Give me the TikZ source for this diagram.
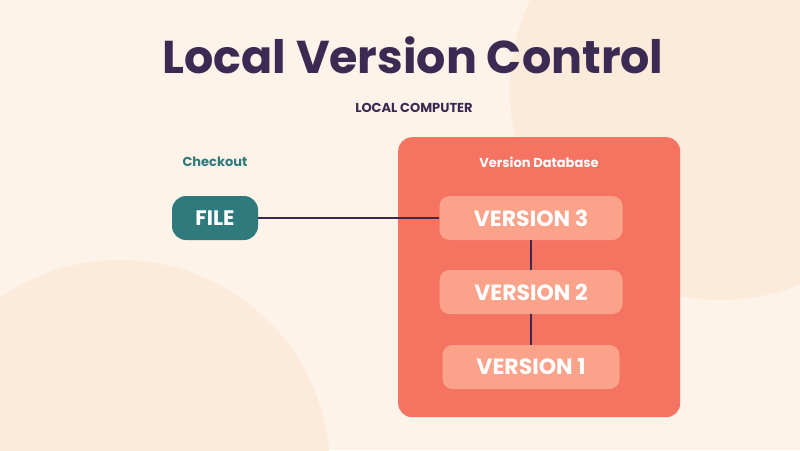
\documentclass[tikz,border=0pt]{standalone}
\usepackage{fontspec}
\setmainfont{Poppins}
\definecolor{bg}{HTML}{FDF3E9}
\definecolor{blob}{HTML}{FCEADA}
\definecolor{ink}{HTML}{3B2A52}
\definecolor{teal}{HTML}{2E7A7C}
\definecolor{db}{HTML}{F47461}
\definecolor{ver}{HTML}{FBA28A}
\begin{document}
\begin{tikzpicture}[x=1pt,y=-1pt,
  verbox/.style={fill=ver,rounded corners=10pt,minimum width=183pt,minimum height=44pt,text=white,font=\fontsize{22}{24}\selectfont\bfseries,inner sep=0pt},
  conn/.style={draw=ink,line width=1.3pt}]
\useasboundingbox (0,0) rectangle (800,450);
\fill[bg] (0,0) rectangle (800,450);
\begin{scope}
\clip (0,0) rectangle (800,450);
\fill[blob] (720,90) circle (210);
\fill[blob] (120,470) circle (210);
\end{scope}
\node[text=ink,font=\fontsize{46}{50}\selectfont\bfseries] (title) at (413,55) {Local Version Control};
\node[text=ink,font=\fontsize{13}{15}\selectfont\bfseries] (lc) at (414,108) {LOCAL COMPUTER};
\node[fill=db,rounded corners=14pt,minimum width=282pt,minimum height=280pt,anchor=north west,inner sep=0pt] (dbbox) at (398,137) {};
\node[text=white,font=\fontsize{13}{15}\selectfont\bfseries] (dbl) at (539,162) {Version Database};
\node[text=teal,font=\fontsize{13}{15}\selectfont\bfseries] (co) at (215,162) {Checkout};
\node[fill=teal,rounded corners=14pt,minimum width=86pt,minimum height=44pt,text=white,font=\fontsize{21}{24}\selectfont\bfseries,inner sep=0pt] (file) at (215,218) {FILE};
\node[verbox] (v3) at (531,218) {VERSION 3};
\node[verbox] (v2) at (531,292) {VERSION 2};
\node[verbox,minimum width=177pt] (v1) at (531,367) {VERSION 1};
\draw[conn] (file.east) -- (v3.west);
\draw[conn] (v3.south) -- (v2.north);
\draw[conn] (v2.south) -- (v1.north);
\end{tikzpicture}
\end{document}
